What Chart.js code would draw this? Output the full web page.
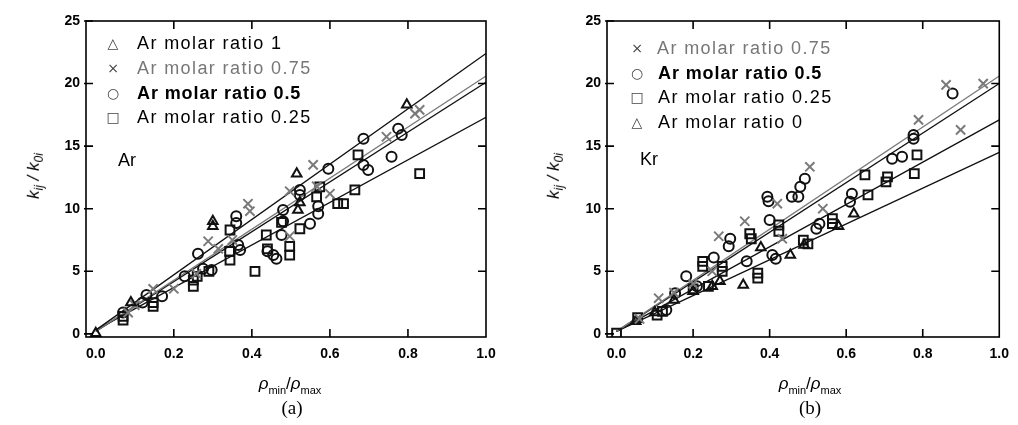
<!DOCTYPE html>
<html>
<head>
<meta charset="utf-8">
<script src="https://cdn.jsdelivr.net/npm/chart.js@4.4.0/dist/chart.umd.min.js"></script>
<style>
body{margin:0;background:#fff;width:1018px;height:425px;overflow:hidden;position:relative;font-family:"Liberation Sans",Arial,sans-serif}
canvas{position:absolute;top:0}
#ca{left:0}
#cb{left:509px}
.t{position:absolute;white-space:nowrap;color:#000}
.ytitle{font-style:italic;font-size:17px;transform:translate(-50%,-50%) rotate(-90deg)}
.ytitle sub{font-size:12px}
.xtitle{font-size:17px;transform:translate(-50%,-50%)}
.xtitle sub{font-size:11px}
.panel{font-family:"Liberation Serif",serif;font-size:19px;transform:translate(-50%,-50%)}
.leg{font-size:18px;letter-spacing:1.4px;transform:translateY(-50%)}
.mk{font-family:"DejaVu Sans",sans-serif;font-size:14px;color:#444;transform:translate(-50%,-50%)}
.gas{font-size:18px;transform:translateY(-50%)}
</style>
</head>
<body>
<canvas id="ca" width="509" height="425"></canvas>
<canvas id="cb" width="509" height="425"></canvas>

<div class="t ytitle" style="left:35px;top:176px"><i>k</i><sub><i>ij</i></sub> / <i>k</i><sub><i>0i</i></sub></div>
<div class="t ytitle" style="left:555px;top:176px"><i>k</i><sub><i>ij</i></sub> / <i>k</i><sub><i>0i</i></sub></div>
<div class="t xtitle" style="left:290px;top:385px"><i>ρ</i><sub>min</sub>/<i>ρ</i><sub>max</sub></div>
<div class="t xtitle" style="left:810px;top:385px"><i>ρ</i><sub>min</sub>/<i>ρ</i><sub>max</sub></div>
<div class="t panel" style="left:292px;top:408px">(a)</div>
<div class="t panel" style="left:810px;top:408px">(b)</div>

<div class="t mk" style="left:113px;top:43px">△</div>
<div class="t leg" style="left:137px;top:43px">Ar molar ratio 1</div>
<div class="t mk" style="left:113px;top:68px">×</div>
<div class="t leg" style="left:137px;top:68px;color:#777">Ar molar ratio 0.75</div>
<div class="t mk" style="left:113px;top:93px">○</div>
<div class="t leg" style="left:137px;top:93px;font-weight:bold;letter-spacing:0.9px">Ar molar ratio 0.5</div>
<div class="t mk" style="left:113px;top:117px">□</div>
<div class="t leg" style="left:137px;top:117px">Ar molar ratio 0.25</div>
<div class="t gas" style="left:118px;top:160px">Ar</div>

<div class="t mk" style="left:637px;top:48px">×</div>
<div class="t leg" style="left:657px;top:48px;color:#777">Ar molar ratio 0.75</div>
<div class="t mk" style="left:637px;top:73px">○</div>
<div class="t leg" style="left:658px;top:73px;font-weight:bold;letter-spacing:0.9px">Ar molar ratio 0.5</div>
<div class="t mk" style="left:637px;top:97px">□</div>
<div class="t leg" style="left:658px;top:97px">Ar molar ratio 0.25</div>
<div class="t mk" style="left:637px;top:122px">△</div>
<div class="t leg" style="left:658px;top:122px">Ar molar ratio 0</div>
<div class="t gas" style="left:640px;top:159px">Kr</div>

<script>
const xTicks=[0,0.2,0.4,0.6,0.8,1.0]
const yTicks=[0,5,10,15,20,25]
const fitX=[0,1]

// (a) Ar
const arR1X=[0.00,0.09,0.30,0.30,0.515,0.518,0.523,0.797]
const arR1Y=[0.05,2.5,8.6,9.0,12.8,9.9,10.5,18.3]
const arR075X=[0.083,0.10,0.147,0.20,0.258,0.288,0.314,0.35,0.39,0.395,0.497,0.497,0.557,0.566,0.60,0.745,0.818,0.83]
const arR075Y=[1.7,2.3,3.6,3.6,4.8,7.4,6.8,7.5,10.4,9.8,11.4,7.8,13.5,11.8,11.2,15.75,17.6,17.9]
const arR05X=[0.07,0.12,0.13,0.17,0.228,0.262,0.275,0.297,0.36,0.36,0.365,0.37,0.44,0.455,0.463,0.476,0.48,0.48,0.523,0.523,0.549,0.57,0.57,0.596,0.686,0.686,0.698,0.758,0.775,0.784]
const arR05Y=[1.7,2.5,3.1,3.0,4.6,6.4,5.2,5.1,9.4,8.85,7.1,6.7,6.6,6.3,6.0,7.9,9.9,9.0,11.5,11.1,8.8,10.2,9.6,13.2,15.6,13.5,13.1,14.15,16.4,15.9]
const arR025X=[0.07,0.07,0.147,0.147,0.25,0.25,0.26,0.29,0.344,0.344,0.343,0.408,0.437,0.44,0.476,0.497,0.497,0.523,0.566,0.574,0.62,0.635,0.664,0.672,0.83]
const arR025Y=[1.1,1.4,2.2,2.5,3.8,4.3,4.6,5.0,8.3,5.9,6.6,5.0,7.9,6.8,8.9,7.0,6.3,8.4,10.95,11.75,10.4,10.4,11.5,14.3,12.8]
const arFitStart=[0.3,0.2,0.2,0.3]
const arFitEnd=[22.4,20.6,20.1,17.3]

// (b) Kr
const krR075X=[0.06,0.11,0.15,0.20,0.25,0.267,0.335,0.42,0.433,0.505,0.539,0.789,0.861,0.899,0.958]
const krR075Y=[1.2,2.85,3.3,4.0,5.0,7.8,9.0,10.4,7.6,13.35,10.0,17.1,19.9,16.3,20.0]
const krR05X=[0.13,0.153,0.182,0.21,0.254,0.293,0.297,0.34,0.394,0.397,0.40,0.407,0.416,0.458,0.475,0.48,0.492,0.522,0.53,0.61,0.615,0.72,0.746,0.776,0.776,0.878]
const krR05Y=[1.9,3.25,4.6,3.8,6.1,7.0,7.6,5.8,10.95,10.6,9.1,6.3,6.0,10.95,10.95,11.75,12.4,8.4,8.8,10.55,11.2,14.0,14.15,15.6,15.9,19.2]
const krR025X=[0.0,0.055,0.106,0.12,0.20,0.225,0.225,0.24,0.276,0.276,0.348,0.352,0.369,0.369,0.424,0.424,0.488,0.50,0.564,0.564,0.649,0.657,0.704,0.708,0.778,0.785]
const krR025Y=[0.05,1.3,1.5,1.8,3.6,5.8,5.4,3.8,5.4,5.0,8.0,7.6,4.85,4.45,8.7,8.2,7.5,7.2,9.2,8.8,12.7,11.1,12.15,12.55,12.8,14.3]
const krR0X=[0.05,0.10,0.15,0.20,0.25,0.27,0.331,0.377,0.454,0.49,0.58,0.62]
const krR0Y=[1.0,1.7,2.7,3.4,3.8,4.2,3.9,6.9,6.3,7.1,8.6,9.6]
const krFitStart=[0.2,0.2,0.2,0.2]
const krFitEnd=[20.6,20.0,17.1,14.5]

const black='#111'
const gray='#7a7a7a'

function scatterSet(xs,ys,style,color,r){
  return {
    type:'scatter',
    data:xs.map((x,i)=>({x:x,y:ys[i]})),
    pointStyle:style,
    pointRadius:r,
    pointBorderColor:color,
    pointBackgroundColor:'rgba(0,0,0,0)',
    pointBorderWidth:2,
    showLine:false,
    order:1
  }
}
function fitSet(y0,y1,color){
  return {
    type:'line',
    data:[{x:fitX[0],y:y0},{x:fitX[1],y:y1}],
    borderColor:color,
    borderWidth:1.3,
    pointRadius:0,
    fill:false,
    order:2
  }
}

const framePlugin={
  id:'frame',
  afterDatasetsDraw(chart){
    const {ctx,chartArea:a,scales:{x,y}}=chart
    ctx.save()
    ctx.strokeStyle='#000'
    ctx.lineWidth=1.6
    ctx.strokeRect(a.left,a.top,a.right-a.left,a.bottom-a.top)
    ctx.beginPath()
    xTicks.slice(1,-1).forEach(v=>{
      let px=x.getPixelForValue(v)
      ctx.moveTo(px,a.bottom);ctx.lineTo(px,a.bottom-8)
      ctx.moveTo(px,a.top);ctx.lineTo(px,a.top+8)
    })
    yTicks.forEach(v=>{
      let py=y.getPixelForValue(v)
      ctx.moveTo(a.left-2,py);ctx.lineTo(a.left+7,py)
      if(v>0&&v<25){ctx.moveTo(a.right,py);ctx.lineTo(a.right-8,py)}
    })
    ctx.stroke()
    ctx.restore()
  }
}

function makeChart(id,sets,axisW,padRight){
  return new Chart(document.getElementById(id),{
    type:'scatter',
    data:{datasets:sets},
    options:{
      responsive:false,
      animation:false,
      devicePixelRatio:1,
      layout:{padding:{top:21,right:padRight,left:0,bottom:0}},
      plugins:{legend:{display:false},tooltip:{enabled:false}},
      scales:{
        x:{
          type:'linear',min:-0.025,max:1.0,
          afterBuildTicks:s=>{s.ticks=xTicks.map(v=>({value:v}))},
          afterFit:s=>{s.height=88},
          grid:{display:false,drawTicks:false},
          border:{display:false},
          ticks:{padding:9,color:'#000',maxRotation:0,font:{family:'Liberation Sans',size:14,weight:'bold'},callback:v=>Number(v).toFixed(1)}
        },
        y:{
          type:'linear',min:-0.25,max:25,
          afterBuildTicks:s=>{s.ticks=yTicks.map(v=>({value:v}))},
          afterFit:s=>{s.width=axisW},
          grid:{display:false,drawTicks:false},
          border:{display:false},
          ticks:{padding:6,color:'#000',font:{family:'Liberation Sans',size:14,weight:'bold'},callback:v=>String(v)}
        }
      }
    },
    plugins:[framePlugin]
  })
}

let chartA=makeChart('ca',[
  fitSet(arFitStart[0],arFitEnd[0],black),
  fitSet(arFitStart[1],arFitEnd[1],gray),
  fitSet(arFitStart[2],arFitEnd[2],black),
  fitSet(arFitStart[3],arFitEnd[3],black),
  scatterSet(arR1X,arR1Y,'triangle',black,5.5),
  scatterSet(arR075X,arR075Y,'crossRot',gray,6.5),
  scatterSet(arR05X,arR05Y,'circle',black,5),
  scatterSet(arR025X,arR025Y,'rect',black,6.2)
],86,23)

let chartB=makeChart('cb',[
  fitSet(krFitStart[0],krFitEnd[0],gray),
  fitSet(krFitStart[1],krFitEnd[1],black),
  fitSet(krFitStart[2],krFitEnd[2],black),
  fitSet(krFitStart[3],krFitEnd[3],black),
  scatterSet(krR075X,krR075Y,'crossRot',gray,6.5),
  scatterSet(krR05X,krR05Y,'circle',black,5),
  scatterSet(krR025X,krR025Y,'rect',black,6.2),
  scatterSet(krR0X,krR0Y,'triangle',black,5.5)
],98,10)
</script>
</body>
</html>
